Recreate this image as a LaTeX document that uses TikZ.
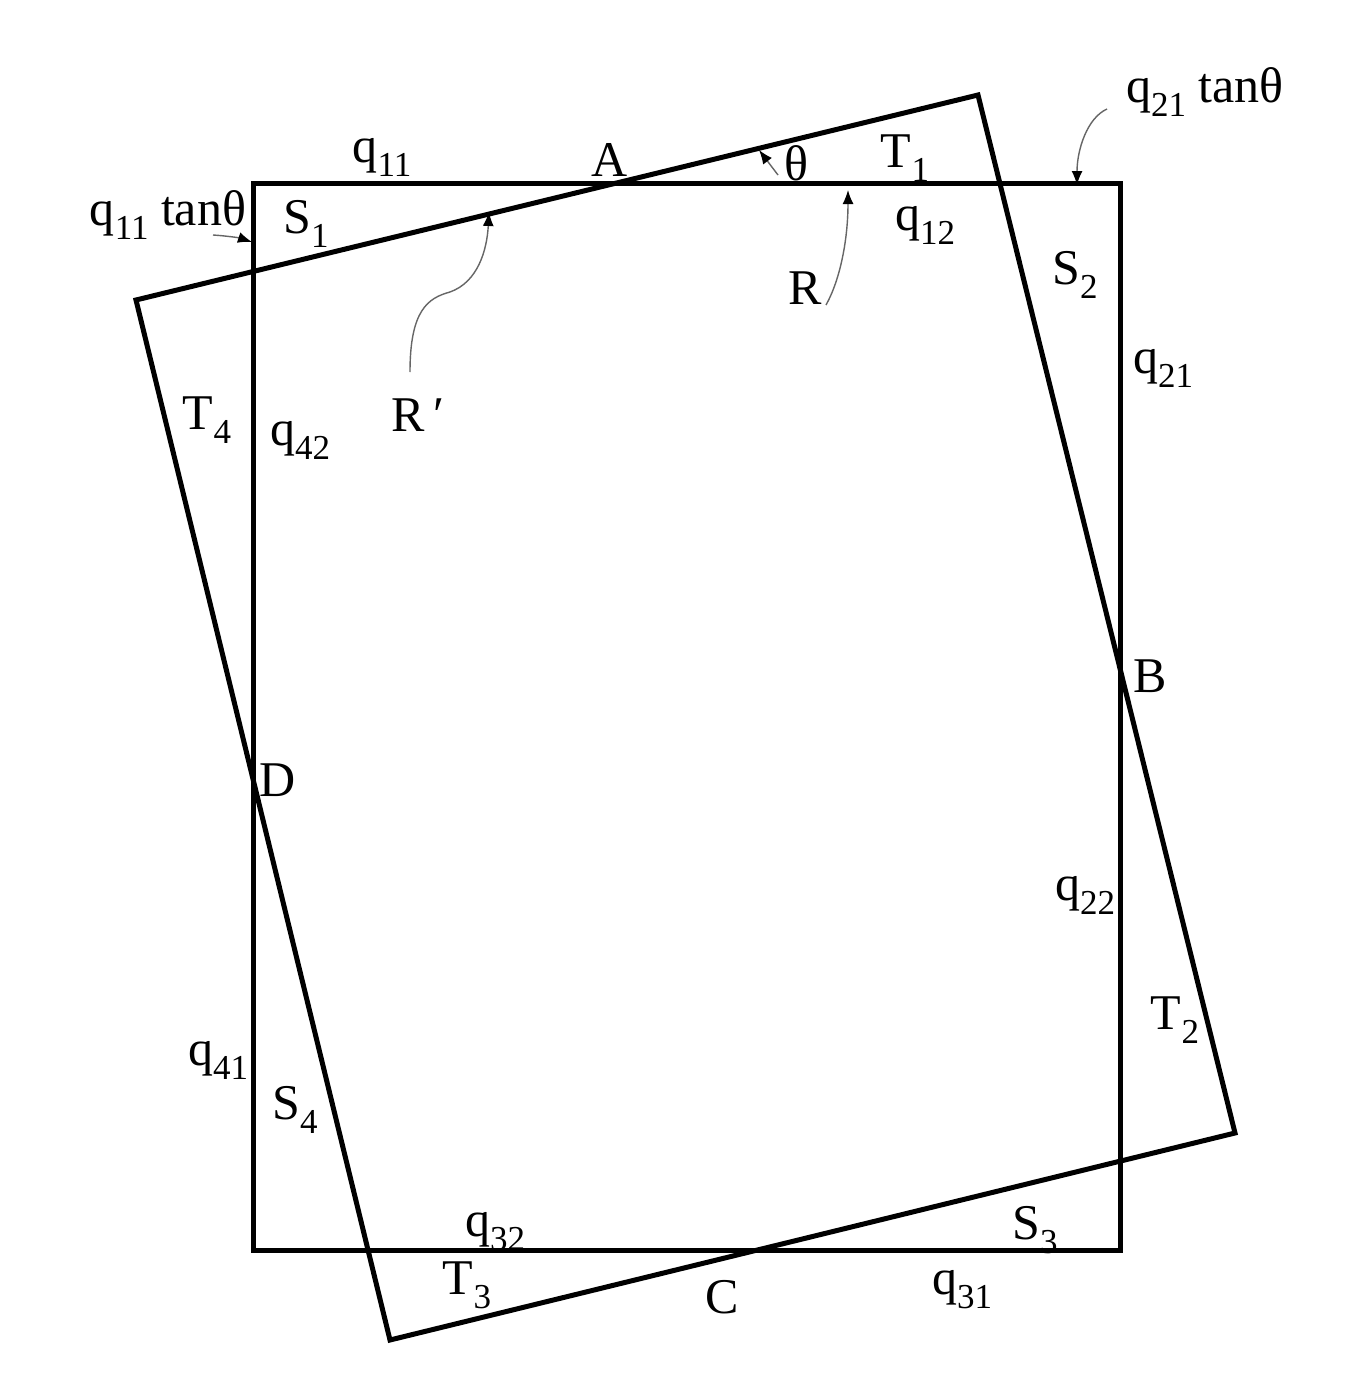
\documentclass[tikz,border=0pt]{standalone}
\usepackage{fontspec}
\setmainfont{Liberation Serif}
\usetikzlibrary{arrows.meta}
\newcommand\sbs[1]{\raisebox{-0.28em}{\fontsize{35}{35}\selectfont #1}}
\tikzset{
  lab/.style={font=\fontsize{50}{54}\selectfont, inner sep=0pt},
  edge/.style={line width=5pt, line join=miter},
  pointer/.style={line width=1.4pt, draw=black!60, -{Latex[length=14pt,width=11pt,black]}},
}
\begin{document}
\begin{tikzpicture}[x=1pt,y=-1pt]
\useasboundingbox[fill=white] (0,0) rectangle (1359,1389);
% fixed square
\coordinate (P1) at (253,183);
\coordinate (P2) at (1120,183);
\coordinate (P3) at (1120,1250);
\coordinate (P4) at (253,1250);
\draw[edge] (P1) -- (P2) -- (P3) -- (P4) -- cycle;
% rotated square
\coordinate (Q1) at (136,300);
\coordinate (Q2) at (978,95);
\coordinate (Q3) at (1235,1133);
\coordinate (Q4) at (390,1340);
\draw[edge] (Q1) -- (Q2) -- (Q3) -- (Q4) -- cycle;
% labels
\node[lab] (q11) at (382,157) {q\sbs{11}};
\node[lab] (A) at (610,160) {A};
\node[lab] (th) at (796,163) {θ};
\node[lab] (T1) at (905,158) {T\sbs{1}};
\node[lab] (q12) at (925,225) {q\sbs{12}};
\node[lab] (R) at (805,288) {R};
\node[lab] (Rp) at (418,415) {R\,′};
\node[lab] (q11t) at (168,215) {q\sbs{11} tanθ};
\node[lab] (S1) at (306,224) {S\sbs{1}};
\node[lab] (q21t) at (1205,92) {q\sbs{21} tanθ};
\node[lab] (S2) at (1075,275) {S\sbs{2}};
\node[lab] (q21) at (1163,368) {q\sbs{21}};
\node[lab] (T4) at (207,420) {T\sbs{4}};
\node[lab] (q42) at (300,440) {q\sbs{42}};
\node[lab] (B) at (1150,676) {B};
\node[lab] (D) at (278,780) {D};
\node[lab] (q22) at (1085,895) {q\sbs{22}};
\node[lab] (T2) at (1175,1020) {T\sbs{2}};
\node[lab] (q41) at (218,1060) {q\sbs{41}};
\node[lab] (S4) at (295,1110) {S\sbs{4}};
\node[lab] (q32) at (495,1232) {q\sbs{32}};
\node[lab] (S3) at (1035,1230) {S\sbs{3}};
\node[lab] (T3) at (467,1285) {T\sbs{3}};
\node[lab] (C) at (722,1297) {C};
\node[lab] (q31) at (962,1290) {q\sbs{31}};
% pointer ends
\coordinate (thS) at (778,175);
\coordinate (thE) at (759,150);
\coordinate (RS) at (826,305);
\coordinate (RE) at (848,190);
\coordinate (RpS) at (410,372);
\coordinate (RpM) at (450,292);
\coordinate (RpE) at (489,212);
\coordinate (q21tS) at (1107,109);
\coordinate (q21tE) at (1077,185);
\coordinate (q11tS) at (213,235);
\coordinate (q11tE) at (252,242);
% pointers
\draw[pointer] (thS) -- (thE);
\draw[pointer] (RS) .. controls (840,280) and (848,240) .. (RE);
\draw[pointer] (RpS) .. controls (410,310) and (428,298) .. (RpM) .. controls (478,282) and (487,250) .. (RpE);
\draw[pointer] (q21tS) .. controls (1087,118) and (1077,150) .. (q21tE);
\draw[pointer] (q11tS) .. controls (228,236) and (240,238) .. (q11tE);
\end{tikzpicture}
\end{document}
